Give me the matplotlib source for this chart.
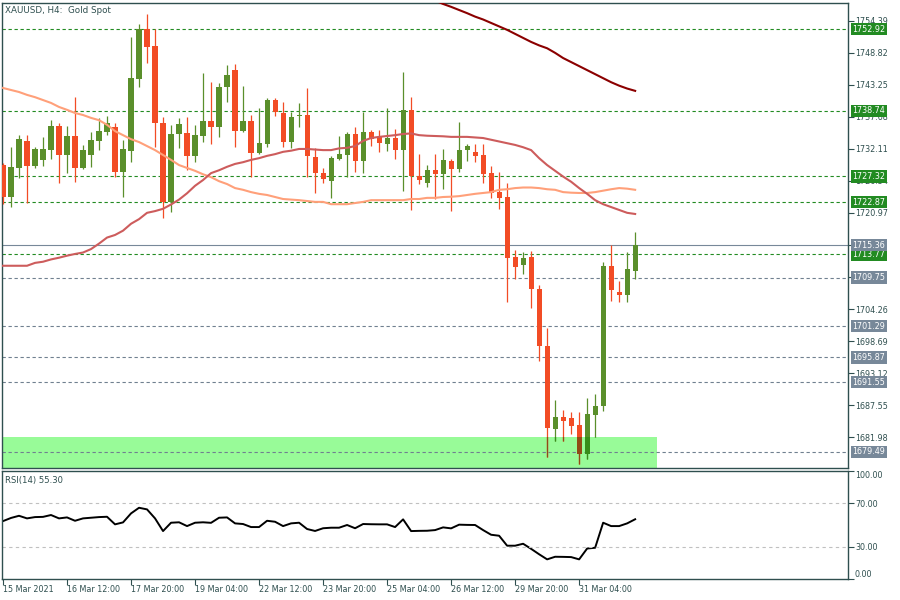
import matplotlib
matplotlib.use("Agg")
import matplotlib.pyplot as plt
from matplotlib.patches import Rectangle
from matplotlib.colors import to_rgb
import numpy as np

# %% data
opens = [1729.3, 1723.8, 1728.8, 1733.5, 1729.1, 1730.2, 1731.9, 1736.1, 1731.1, 1734.4,
         1728.8, 1731.1, 1733.5, 1735.1, 1735.9, 1728.1, 1731.7, 1744.3, 1753.0, 1750.0,
         1736.6, 1722.9, 1734.7, 1734.9, 1730.9, 1734.4, 1737.0, 1735.9, 1742.9, 1745.8,
         1735.2, 1737.0, 1731.4, 1733.0, 1740.6, 1738.4, 1733.3, 1737.8, 1738.0, 1730.7,
         1727.9, 1726.5, 1730.4, 1731.1, 1734.7, 1730.0, 1735.1, 1734.2, 1733.0, 1734.0,
         1731.9, 1738.9, 1727.4, 1726.2, 1728.4, 1727.8, 1730.0, 1728.6, 1731.9, 1731.6,
         1731.1, 1727.9, 1724.6, 1723.8, 1713.3, 1711.9, 1713.3, 1707.8, 1697.9, 1683.4,
         1685.5, 1685.3, 1684.1, 1679.1, 1685.9, 1687.4, 1711.8, 1707.2, 1706.7, 1710.9]
highs = [1729.7, 1732.4, 1734.5, 1734.5, 1732.4, 1734.2, 1737.1, 1736.6, 1736.1, 1741.1,
         1732.8, 1735.1, 1737.5, 1737.8, 1736.6, 1733.7, 1751.6, 1753.8, 1755.6, 1753.0,
         1737.7, 1736.3, 1737.5, 1737.7, 1736.3, 1745.3, 1743.7, 1743.6, 1746.7, 1746.9,
         1743.0, 1738.0, 1739.2, 1741.0, 1741.0, 1740.3, 1738.5, 1740.1, 1742.7, 1732.3,
         1728.8, 1730.9, 1734.4, 1735.1, 1735.9, 1738.5, 1735.4, 1735.4, 1739.2, 1735.6,
         1745.5, 1741.1, 1731.2, 1729.3, 1731.2, 1732.1, 1730.4, 1736.8, 1733.0, 1733.0,
         1733.0, 1729.1, 1728.1, 1726.2, 1714.5, 1714.2, 1714.4, 1708.5, 1701.0, 1688.5,
         1686.7, 1686.4, 1686.4, 1688.8, 1689.5, 1712.5, 1715.4, 1709.2, 1714.2, 1717.7]
lows = [1722.5, 1722.0, 1727.1, 1722.7, 1728.8, 1729.1, 1730.4, 1726.2, 1727.9, 1726.4,
        1728.6, 1729.0, 1731.9, 1734.5, 1727.2, 1723.8, 1729.8, 1742.9, 1747.0, 1732.4,
        1720.1, 1721.1, 1732.3, 1728.4, 1729.8, 1733.3, 1733.0, 1734.2, 1740.3, 1732.4,
        1735.1, 1727.2, 1731.2, 1732.4, 1737.8, 1732.4, 1732.3, 1735.9, 1727.2, 1724.4,
        1726.2, 1723.6, 1730.2, 1727.2, 1728.1, 1727.9, 1732.6, 1731.6, 1731.7, 1730.4,
        1724.8, 1721.5, 1726.0, 1725.5, 1723.4, 1725.1, 1721.3, 1728.1, 1730.0, 1729.8,
        1726.2, 1723.6, 1721.7, 1705.5, 1709.5, 1710.4, 1704.5, 1695.2, 1678.6, 1681.3,
        1681.3, 1682.6, 1677.3, 1678.2, 1682.0, 1686.6, 1705.7, 1705.5, 1705.5, 1709.5]
closes = [1723.8, 1729.0, 1733.8, 1729.1, 1732.1, 1732.1, 1736.1, 1731.1, 1734.4, 1728.8,
          1731.9, 1733.7, 1735.2, 1736.6, 1728.1, 1732.1, 1744.4, 1753.0, 1749.8, 1736.6,
          1722.9, 1734.7, 1736.4, 1730.9, 1734.5, 1737.0, 1735.9, 1742.9, 1745.0, 1735.2,
          1737.0, 1731.4, 1733.1, 1740.6, 1738.5, 1733.3, 1737.7, 1738.0, 1730.9, 1727.9,
          1726.9, 1730.5, 1731.2, 1734.7, 1730.0, 1735.1, 1733.8, 1733.1, 1734.0, 1731.9,
          1738.9, 1727.4, 1726.7, 1728.4, 1727.8, 1730.2, 1728.6, 1731.9, 1732.6, 1730.9,
          1727.8, 1724.4, 1723.6, 1713.1, 1711.6, 1713.1, 1707.8, 1697.9, 1683.6, 1685.5,
          1684.8, 1683.9, 1679.1, 1686.0, 1687.4, 1711.8, 1707.6, 1706.7, 1711.2, 1715.36]

# moving averages
ma_salmon = [1742.7, 1742.35, 1742.0, 1741.5, 1741.1, 1740.6, 1740.1, 1739.4, 1738.9, 1738.35,
             1738.0, 1737.5, 1737.1, 1736.3, 1735.2, 1734.5, 1733.8, 1733.3, 1732.6, 1731.9,
             1731.05, 1730.2, 1729.3, 1728.8, 1728.3, 1727.7, 1727.2, 1726.5, 1726.0, 1725.3,
             1725.0, 1724.6, 1724.3, 1724.1, 1723.75, 1723.4, 1723.3, 1723.2, 1723.05, 1722.9,
             1722.9, 1722.5, 1722.5, 1722.5, 1722.7, 1722.9, 1723.2, 1723.2, 1723.2, 1723.2,
             1723.2, 1723.4, 1723.4, 1723.6, 1723.6, 1723.75, 1723.8, 1723.9, 1724.1, 1724.3,
             1724.45, 1724.6, 1725.0, 1725.1, 1725.3, 1725.4, 1725.4, 1725.3, 1725.1, 1725.0,
             1724.6, 1724.5, 1724.45, 1724.45, 1724.6, 1724.85, 1725.1, 1725.3, 1725.2, 1725.0]
ma_indian = [1711.8, 1711.8, 1711.8, 1711.8, 1712.3, 1712.5, 1712.9, 1713.2, 1713.55, 1713.85,
             1714.1, 1714.7, 1715.65, 1716.7, 1717.15, 1717.9, 1719.1, 1719.9, 1721.0, 1721.3,
             1721.7, 1722.45, 1723.3, 1724.4, 1725.7, 1726.7, 1727.9, 1728.4, 1729.0, 1729.5,
             1729.8, 1730.2, 1730.5, 1730.9, 1731.2, 1731.6, 1731.8, 1732.1, 1732.1, 1732.0,
             1731.9, 1731.9, 1732.2, 1732.3, 1732.6, 1733.5, 1734.0, 1734.2, 1734.35, 1734.5,
             1734.7, 1734.8, 1734.5, 1734.4, 1734.35, 1734.3, 1734.2, 1734.2, 1734.2, 1734.1,
             1734.0, 1733.7, 1733.4, 1733.1, 1732.8, 1732.4, 1731.9, 1730.5, 1729.3, 1728.3,
             1727.3, 1726.4, 1725.3, 1724.3, 1723.2, 1722.5, 1722.0, 1721.5, 1721.0, 1720.8]
ma_dark_start = 54
ma_dark = [1757.9, 1757.3, 1756.8, 1756.25, 1755.7, 1755.1, 1754.6, 1754.0, 1753.4, 1752.8,
           1752.1, 1751.4, 1750.7, 1750.1, 1749.6, 1748.8, 1747.9, 1747.2, 1746.5, 1745.8,
           1745.1, 1744.4, 1743.7, 1743.1, 1742.6, 1742.2]

rsi = [53.6, 56.5, 58.5, 56.1, 57.3, 57.5, 59.2, 56.1, 57.0, 53.9,
       56.1, 56.7, 57.3, 57.6, 50.6, 52.4, 60.7, 65.9, 64.4, 56.1,
       44.4, 52.1, 52.5, 49.0, 52.1, 52.5, 52.0, 56.7, 57.0, 51.5,
       50.9, 48.1, 48.1, 53.9, 53.0, 49.0, 51.5, 52.1, 46.3, 44.5,
       47.0, 47.5, 47.5, 50.0, 47.0, 50.9, 50.7, 50.6, 50.6, 48.1,
       55.2, 44.4, 44.6, 44.7, 45.3, 47.8, 46.9, 50.3, 50.1, 50.0,
       45.3, 41.0, 40.1, 30.9, 30.9, 32.7, 28.0, 23.0, 18.3, 20.7,
       20.6, 20.4, 18.3, 28.3, 29.0, 52.1, 49.0, 49.0, 51.5, 55.3]

green_levels = [1752.92, 1738.74, 1727.32, 1722.87, 1713.77]
gray_levels = [1709.75, 1701.29, 1695.87, 1691.55, 1679.49]
last_price = 1715.36
zone_top = 1682.09
zone_end = 81.75

# axis grid prices; the ones fully covered by a price box show no label
price_ticks = [1754.39, 1748.82, 1743.25, 1737.68, 1732.11, 1726.54, 1720.97,
               1715.40, 1709.83, 1704.26, 1698.69, 1693.12, 1687.55, 1681.98]
hidden_ticks = [1715.40, 1709.83]
date_pos = [0, 8, 16, 24, 32, 40, 48, 56, 64, 72]
date_labels = ["15 Mar 2021", "16 Mar 12:00", "17 Mar 20:00", "19 Mar 04:00",
               "22 Mar 12:00", "23 Mar 20:00", "25 Mar 04:00", "26 Mar 12:00",
               "29 Mar 20:00", "31 Mar 04:00"]

# %% styles
UP = "#5a8f2b"
DOWN = "#f24c25"
ZONE = "#98fb98"
FRAME = "#2f4f4f"
GREEN = "#228b22"
GRAY = "#778899"
FS = 5.8

plt.rcParams["font.family"] = ["DejaVu Sans"]

fig = plt.figure(figsize=(9, 6), dpi=100)
ax = fig.add_axes([2 / 900, 1 - 468 / 600, 846 / 900, 465.3 / 600])
ax2 = fig.add_axes([2 / 900, 1 - 579.2 / 600, 846 / 900, 108.4 / 600])

n = len(opens)
x = np.arange(n)


def draw_candles(ax, up, down, zorder, clip=None):
    for i in range(n):
        o, c = opens[i], closes[i]
        col = up if c >= o else down
        w = ax.vlines(i, lows[i], highs[i], color=col, lw=0.9, zorder=zorder)
        b = Rectangle((i - 0.32, min(o, c)), 0.64, max(abs(c - o), 0.18),
                      fc=col, ec="none", zorder=zorder)
        ax.add_patch(b)
        if clip is not None:
            w.set_clip_path(clip)
            b.set_clip_path(clip)


zone = Rectangle((-1, 1676.0), zone_end + 1, zone_top - 1676.0, fc=ZONE, ec="none", zorder=1)
ax.add_patch(zone)

draw_candles(ax, UP, DOWN, 3)
# the zone multiplies the candle colours underneath it
mult = lambda c: tuple(a * b for a, b in zip(to_rgb(c), to_rgb(ZONE)))
draw_candles(ax, mult(UP), mult(DOWN), 3.5, clip=zone)

ax.plot(x, ma_salmon, color="#ffa07a", lw=1.5, zorder=4)
ax.plot(x, ma_indian, color="#cd5c5c", lw=1.5, zorder=4)
ax.plot(np.arange(ma_dark_start, ma_dark_start + len(ma_dark)), ma_dark,
        color="#8b0000", lw=1.5, zorder=4)

for lv in green_levels:
    ax.axhline(lv, color=GREEN, lw=0.8, ls=(0, (3, 2.4)), zorder=2)
for lv in gray_levels:
    ax.axhline(lv, color="#708090", lw=0.8, ls=(0, (3, 2.4)), zorder=2)
ax.axhline(last_price, color=GRAY, lw=0.8, zorder=2)

ax.set_xlim(-0.125, 105.6)
ax.set_ylim(1676.65, 1757.52)
ax.set_xticks([])
ax.yaxis.tick_right()
ax.set_yticks(price_ticks)
ax.set_yticklabels(["" if t in hidden_ticks else "%.2f" % t for t in price_ticks])
ax.tick_params(axis="y", direction="out", length=4, width=0.8, color=FRAME,
               labelsize=FS, labelcolor=FRAME, pad=1)


def price_box(lv, col):
    ax.annotate("%.2f" % lv, xy=(1, lv), xycoords=("axes fraction", "data"),
                xytext=(3.3, 0), textcoords="offset points", ha="left", va="center",
                fontsize=FS, color="white", annotation_clip=False, zorder=6,
                bbox=dict(boxstyle="square,pad=0.2", fc=col, ec="none"))


for lv in green_levels:
    price_box(lv, GREEN)
for lv in gray_levels:
    price_box(lv, GRAY)
price_box(last_price, GRAY)

ax.text(0.0035, 0.984, "XAUUSD, H4:  Gold Spot", transform=ax.transAxes,
        ha="left", va="center", fontsize=6.3, color=FRAME)

# %% RSI panel
ax2.plot(x, rsi, color="black", lw=1.4)
for lv in [70, 30]:
    ax2.axhline(lv, color="#c0c0c0", lw=0.8, ls=(0, (3, 3)))
ax2.set_xlim(-0.125, 105.6)
ax2.set_ylim(0, 100)
ax2.yaxis.tick_right()
ax2.set_yticks([0, 30, 70, 100])
ax2.set_yticklabels(["0.00", "30.00", "70.00", "100.00"])
ax2.tick_params(axis="y", direction="out", length=4, width=0.8, color=FRAME,
                labelsize=FS, labelcolor=FRAME, pad=1)
ax2.set_xticks(date_pos)
ax2.set_xticklabels(date_labels)
ax2.tick_params(axis="x", direction="out", length=4.5, width=0.8, color=FRAME,
                labelsize=FS, labelcolor=FRAME, pad=0)
for lbl in ax2.get_xticklabels():
    lbl.set_horizontalalignment("left")
ylbls = ax2.get_yticklabels()
ylbls[0].set_verticalalignment("bottom")
ylbls[-1].set_verticalalignment("top")
ax2.text(0.0035, 0.906, "RSI(14) 55.30", transform=ax2.transAxes,
         ha="left", va="center", fontsize=6.1, color=FRAME)

for a in (ax, ax2):
    for s in a.spines.values():
        s.set_color(FRAME)
        s.set_linewidth(1)

fig.savefig("out.png", dpi=100)
